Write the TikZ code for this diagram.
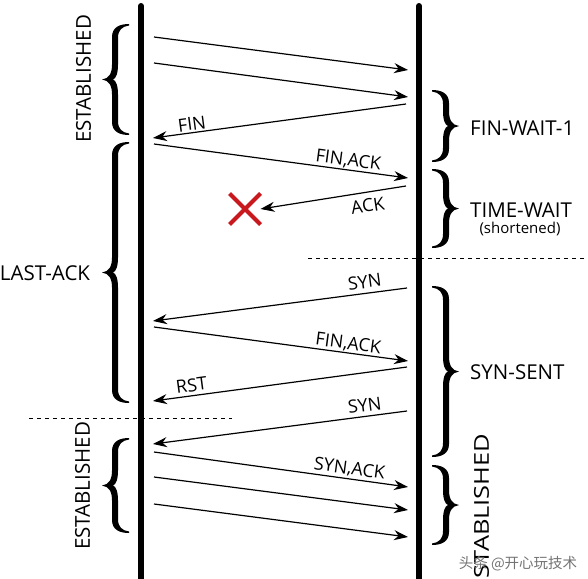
\documentclass[tikz,border=0pt]{standalone}
\usepackage{fontspec}
\setmainfont{Open Sans}
\newfontfamily\cjkfont{Noto Sans CJK SC}
\usetikzlibrary{arrows.meta,shapes.misc}
\definecolor{xred}{RGB}{200,25,30}
\tikzset{
 lifeline/.style={line width=6pt, line cap=round},
 msg/.style={line width=1.2pt, -{Stealth[length=14pt,width=10pt,inset=4.5pt]}},
 lab/.style={font=\fontsize{18}{20}\selectfont, inner sep=0pt, text height=12.8pt, text depth=0pt, sloped},
 state/.style={font=\fontsize{20.5}{24}\selectfont, inner sep=0pt},
 small/.style={font=\fontsize{15}{17}\selectfont, inner sep=0pt},
 sepline/.style={line width=0.9pt, dash pattern=on 4pt off 4pt},
 lostmark/.style={cross out, draw=xred, line width=4pt, minimum size=27pt, inner sep=0pt},
}
\newcommand\cbrace[4]{%
 \begin{scope}[shift={(#1,#2)}, xscale=#4]
  \pgfmathsetmacro\bH{#3}
  \fill (0,0) .. controls (7,-1) and (10,-6) .. (10,-15)
    -- (10,{-\bH+13}) .. controls (10,{-\bH+3}) and (18,{-\bH}) .. (27,{-\bH})
    -- (27,{-\bH+1.5}) .. controls (20,{-\bH+2.5}) and (16,{-\bH+6}) .. (16,{-\bH+14})
    -- (16,-15) .. controls (16,-6) and (14,-1) .. (11,0)
    .. controls (14,1) and (16,6) .. (16,15)
    -- (16,{\bH-14}) .. controls (16,{\bH-6}) and (20,{\bH-2.5}) .. (27,{\bH-1.5})
    -- (27,{\bH}) .. controls (18,{\bH}) and (10,{\bH-3}) .. (10,{\bH-13})
    -- (10,15) .. controls (10,6) and (7,1) .. (0,0) -- cycle;
 \end{scope}}
\begin{document}
\begin{tikzpicture}[x=1pt,y=-1pt]
\useasboundingbox (0,0) rectangle (588,578);
% lifelines
\coordinate (Ltop) at (141,6); \coordinate (Lbot) at (141,590);
\coordinate (Rtop) at (419,6); \coordinate (Rbot) at (419,590);
\draw[lifeline] (Ltop) -- (Lbot);
\draw[lifeline] (Rtop) -- (Rbot);
% separators
\coordinate (d1a) at (308,258); \coordinate (d1b) at (588,258);
\coordinate (d2a) at (29,418); \coordinate (d2b) at (232,418);
\draw[sepline] (d1a) -- (d1b);
\draw[sepline] (d2a) -- (d2b);
% message end points
\coordinate (a1) at (154,37);  \coordinate (b1) at (408,70);
\coordinate (a2) at (154,63);  \coordinate (b2) at (408,97);
\coordinate (a3) at (406,104); \coordinate (b3) at (153,138);
\coordinate (a4) at (154,144); \coordinate (b4) at (408,178);
\coordinate (a5) at (406,186);
\coordinate (a6) at (407,288); \coordinate (b6) at (153,321);
\coordinate (a7) at (154,327); \coordinate (b7) at (408,361);
\coordinate (a8) at (407,367); \coordinate (b8) at (153,401);
\coordinate (a9) at (407,411); \coordinate (b9) at (153,444);
\coordinate (a10) at (154,452); \coordinate (b10) at (408,487);
\coordinate (a11) at (154,477); \coordinate (b11) at (408,510);
\coordinate (a12) at (154,504); \coordinate (b12) at (408,537);
\node[lostmark] (lost) at (245,209) {};
% messages
\draw[msg] (a1) -- (b1);
\draw[msg] (a2) -- (b2);
\draw[msg] (a3) -- node[lab, pos=0.842, above=1.75pt] (l3) {FIN} (b3);
\draw[msg] (a4) -- node[lab, pos=0.76, above=3.5pt] (l4) {FIN,ACK} (b4);
\draw[msg] (a5) -- node[lab, pos=0.278, below=6.5pt] (l5) {ACK} (lost.east);
\draw[msg] (a6) -- node[lab, pos=0.161, above=4.5pt] (l6) {SYN} (b6);
\draw[msg] (a7) -- node[lab, pos=0.76, above=3pt] (l7) {FIN,ACK} (b7);
\draw[msg] (a8) -- node[lab, pos=0.843, above=3.5pt] (l8) {RST} (b8);
\draw[msg] (a9) -- node[lab, pos=0.161, above=4pt] (l9) {SYN} (b9);
\draw[msg] (a10) -- node[lab, pos=0.764, above=4pt] (l10) {SYN,ACK} (b10);
\draw[msg] (a11) -- (b11);
\draw[msg] (a12) -- (b12);
% braces
\cbrace{102}{79.5}{55.5}{1}
\cbrace{102}{272.5}{130.5}{1}
\cbrace{102}{485.5}{47.5}{1}
\cbrace{459}{126}{36}{-1}
\cbrace{459}{208.5}{39.5}{-1}
\cbrace{459}{371.5}{85.5}{-1}
\cbrace{459}{505}{40}{-1}
% state labels
\node[state, rotate=90] (s1) at (83.5,79) {ESTABLISHED};
\node[state] (s2) at (45,273.5) {LAST-ACK};
\node[state, rotate=90] (s3) at (82.5,486) {ESTABLISHED};
\node[state, anchor=west] (s4) at (470,128) {FIN-WAIT-1};
\node[state, anchor=west] (s5) at (470,210) {TIME-WAIT};
\node[small] (s5b) at (520,228.5) {(shortened)};
\node[state, anchor=west] (s6) at (470,372) {SYN-SENT};
\node[state, rotate=90, xscale=1.24] (s7) at (481.5,513) {ESTABLISHED};
% watermark
\node[font=\cjkfont\fontsize{14.5}{16}\selectfont, text=black!55, inner sep=0pt] (wm) at (518,564) {头条 @开心玩技术};
\end{tikzpicture}
\end{document}
